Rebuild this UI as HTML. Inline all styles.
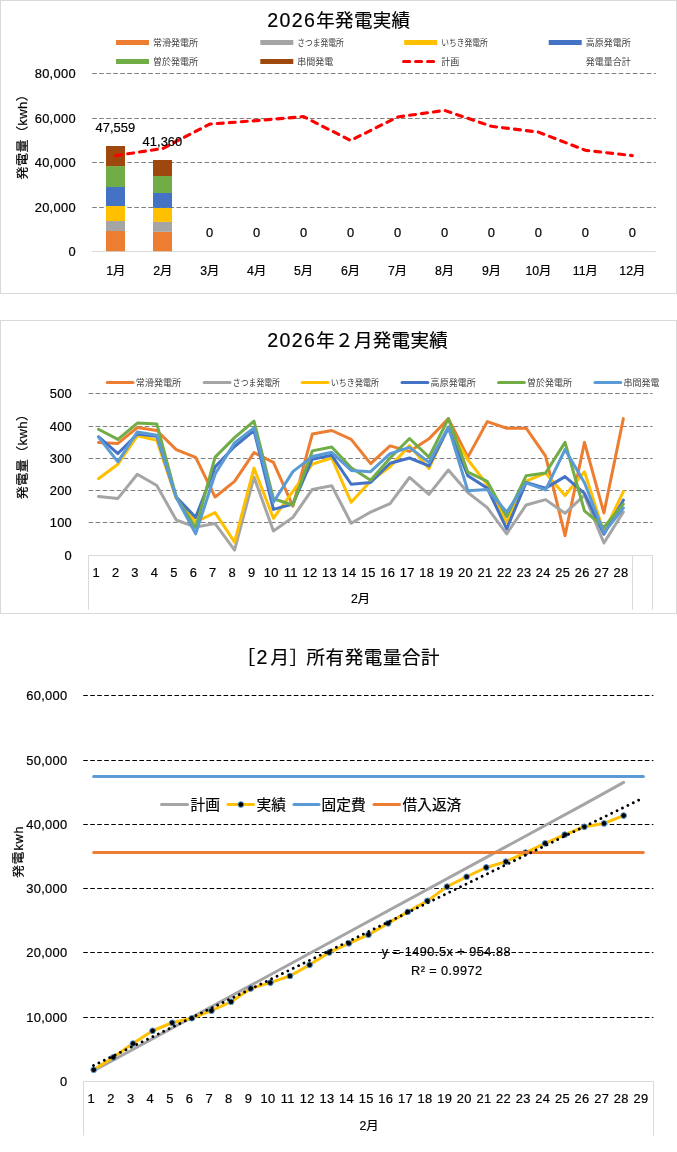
<!DOCTYPE html>
<html lang="ja">
<head>
<meta charset="utf-8">
<title>2026年発電実績</title>
<style>
html,body{margin:0;padding:0;background:#fff;}
body{width:677px;height:1152px;overflow:hidden;font-family:'Liberation Sans', 'Noto Sans CJK JP', sans-serif;}
svg{display:block;font-family:'Liberation Sans', 'Noto Sans CJK JP', sans-serif;}
</style>
</head>
<body>
<svg width="677" height="1152" viewBox="0 0 677 1152">
<g id="chart1">
<rect x="0.5" y="0.5" width="676" height="293" fill="#fff" stroke="#d9d9d9"/>
<text x="267.20" y="26.80" font-size="18.5" text-anchor="start" fill="#000" stroke="#000" stroke-width="0.2" letter-spacing="0.35" ><tspan font-size="19.6" letter-spacing="1.35">2026</tspan>年発電実績</text>
<rect x="116" y="40.0" width="33" height="5" fill="#ed7d31"/>
<text x="153.00" y="45.70" font-size="9" text-anchor="start" fill="#404040" textLength="45" lengthAdjust="spacingAndGlyphs">常滑発電所</text>
<rect x="260.3" y="40.0" width="33" height="5" fill="#a5a5a5"/>
<text x="297.30" y="45.70" font-size="9" text-anchor="start" fill="#404040" textLength="46.5" lengthAdjust="spacingAndGlyphs">さつま発電所</text>
<rect x="404.2" y="40.0" width="33" height="5" fill="#ffc000"/>
<text x="441.20" y="45.70" font-size="9" text-anchor="start" fill="#404040" textLength="46.5" lengthAdjust="spacingAndGlyphs">いちき発電所</text>
<rect x="548.7" y="40.0" width="33" height="5" fill="#4472c4"/>
<text x="585.70" y="45.70" font-size="9" text-anchor="start" fill="#404040" textLength="45" lengthAdjust="spacingAndGlyphs">高原発電所</text>
<rect x="116" y="59.0" width="33" height="5" fill="#70ad47"/>
<text x="153.00" y="64.70" font-size="9" text-anchor="start" fill="#404040" textLength="45" lengthAdjust="spacingAndGlyphs">曽於発電所</text>
<rect x="260.3" y="59.0" width="33" height="5" fill="#9e480e"/>
<text x="297.30" y="64.70" font-size="9" text-anchor="start" fill="#404040" textLength="36" lengthAdjust="spacingAndGlyphs">串間発電</text>
<polyline points="403.60,61.50 433.80,61.50" fill="none" stroke="#ff0000" stroke-width="3.1" stroke-linecap="round" stroke-linejoin="round" stroke-dasharray="6 6"/>
<text x="441.20" y="64.70" font-size="9" text-anchor="start" fill="#404040" textLength="18" lengthAdjust="spacingAndGlyphs">計画</text>
<text x="585.70" y="64.70" font-size="9" text-anchor="start" fill="#404040" textLength="45" lengthAdjust="spacingAndGlyphs">発電量合計</text>
<line x1="92.2" y1="73.5" x2="655.8" y2="73.5" stroke="#7f7f7f" stroke-width="1" stroke-dasharray="4.6 2.42"/>
<line x1="92.2" y1="118.5" x2="655.8" y2="118.5" stroke="#7f7f7f" stroke-width="1" stroke-dasharray="4.6 2.42"/>
<line x1="92.2" y1="162.5" x2="655.8" y2="162.5" stroke="#7f7f7f" stroke-width="1" stroke-dasharray="4.6 2.42"/>
<line x1="92.2" y1="207.5" x2="655.8" y2="207.5" stroke="#7f7f7f" stroke-width="1" stroke-dasharray="4.6 2.42"/>
<line x1="92.3" y1="251.5" x2="655.8" y2="251.5" stroke="#d9d9d9" stroke-width="1"/>
<text x="75.90" y="256.10" font-size="12.9" text-anchor="end" fill="#000" stroke="#000" stroke-width="0.2" letter-spacing="0.3" >0</text>
<text x="75.90" y="211.80" font-size="12.9" text-anchor="end" fill="#000" stroke="#000" stroke-width="0.2" letter-spacing="0.3" >20,000</text>
<text x="75.90" y="167.20" font-size="12.9" text-anchor="end" fill="#000" stroke="#000" stroke-width="0.2" letter-spacing="0.3" >40,000</text>
<text x="75.90" y="122.90" font-size="12.9" text-anchor="end" fill="#000" stroke="#000" stroke-width="0.2" letter-spacing="0.3" >60,000</text>
<text x="75.90" y="78.10" font-size="12.9" text-anchor="end" fill="#000" stroke="#000" stroke-width="0.2" letter-spacing="0.3" >80,000</text>
<text transform="translate(26.90 133.60) rotate(-90) scale(1.06 1)" font-size="12.3" text-anchor="middle" fill="#000" stroke="#000" stroke-width="0.2" letter-spacing="0.4" >発電量（kwh）</text>
<rect x="106" y="231.00" width="19" height="20.20" fill="#ed7d31"/>
<rect x="106" y="221.00" width="19" height="10.00" fill="#a5a5a5"/>
<rect x="106" y="206.00" width="19" height="15.00" fill="#ffc000"/>
<rect x="106" y="187.00" width="19" height="19.00" fill="#4472c4"/>
<rect x="106" y="166.10" width="19" height="20.90" fill="#70ad47"/>
<rect x="106" y="146.00" width="19" height="20.10" fill="#9e480e"/>
<rect x="153" y="231.80" width="19" height="19.40" fill="#ed7d31"/>
<rect x="153" y="221.90" width="19" height="9.90" fill="#a5a5a5"/>
<rect x="153" y="207.90" width="19" height="14.00" fill="#ffc000"/>
<rect x="153" y="193.00" width="19" height="14.90" fill="#4472c4"/>
<rect x="153" y="176.00" width="19" height="17.00" fill="#70ad47"/>
<rect x="153" y="160.00" width="19" height="16.00" fill="#9e480e"/>
<polyline points="115.78,155.60 162.74,148.50 209.70,124.10 256.65,120.60 303.61,116.60 350.57,140.50 397.53,117.00 444.49,110.40 491.45,126.30 538.40,132.10 585.36,150.30 632.32,155.60" fill="none" stroke="#ff0000" stroke-width="3.1" stroke-linecap="round" stroke-linejoin="round" stroke-dasharray="6 6"/>
<text x="115.33" y="132.30" font-size="12.9" text-anchor="middle" fill="#000" stroke="#000" stroke-width="0.2" letter-spacing="0.05" >47,559</text>
<text x="162.43" y="145.80" font-size="12.9" text-anchor="middle" fill="#000" stroke="#000" stroke-width="0.2" letter-spacing="0.05" >41,360</text>
<text x="209.70" y="236.80" font-size="12.9" text-anchor="middle" fill="#000" stroke="#000" stroke-width="0.2" >0</text>
<text x="256.65" y="236.80" font-size="12.9" text-anchor="middle" fill="#000" stroke="#000" stroke-width="0.2" >0</text>
<text x="303.61" y="236.80" font-size="12.9" text-anchor="middle" fill="#000" stroke="#000" stroke-width="0.2" >0</text>
<text x="350.57" y="236.80" font-size="12.9" text-anchor="middle" fill="#000" stroke="#000" stroke-width="0.2" >0</text>
<text x="397.53" y="236.80" font-size="12.9" text-anchor="middle" fill="#000" stroke="#000" stroke-width="0.2" >0</text>
<text x="444.49" y="236.80" font-size="12.9" text-anchor="middle" fill="#000" stroke="#000" stroke-width="0.2" >0</text>
<text x="491.45" y="236.80" font-size="12.9" text-anchor="middle" fill="#000" stroke="#000" stroke-width="0.2" >0</text>
<text x="538.40" y="236.80" font-size="12.9" text-anchor="middle" fill="#000" stroke="#000" stroke-width="0.2" >0</text>
<text x="585.36" y="236.80" font-size="12.9" text-anchor="middle" fill="#000" stroke="#000" stroke-width="0.2" >0</text>
<text x="632.32" y="236.80" font-size="12.9" text-anchor="middle" fill="#000" stroke="#000" stroke-width="0.2" >0</text>
<text x="115.78" y="274.50" font-size="12.3" text-anchor="middle" fill="#000" stroke="#000" stroke-width="0.2" >1月</text>
<text x="162.74" y="274.50" font-size="12.3" text-anchor="middle" fill="#000" stroke="#000" stroke-width="0.2" >2月</text>
<text x="209.70" y="274.50" font-size="12.3" text-anchor="middle" fill="#000" stroke="#000" stroke-width="0.2" >3月</text>
<text x="256.65" y="274.50" font-size="12.3" text-anchor="middle" fill="#000" stroke="#000" stroke-width="0.2" >4月</text>
<text x="303.61" y="274.50" font-size="12.3" text-anchor="middle" fill="#000" stroke="#000" stroke-width="0.2" >5月</text>
<text x="350.57" y="274.50" font-size="12.3" text-anchor="middle" fill="#000" stroke="#000" stroke-width="0.2" >6月</text>
<text x="397.53" y="274.50" font-size="12.3" text-anchor="middle" fill="#000" stroke="#000" stroke-width="0.2" >7月</text>
<text x="444.49" y="274.50" font-size="12.3" text-anchor="middle" fill="#000" stroke="#000" stroke-width="0.2" >8月</text>
<text x="491.45" y="274.50" font-size="12.3" text-anchor="middle" fill="#000" stroke="#000" stroke-width="0.2" >9月</text>
<text x="538.40" y="274.50" font-size="12.3" text-anchor="middle" fill="#000" stroke="#000" stroke-width="0.2" >10月</text>
<text x="585.36" y="274.50" font-size="12.3" text-anchor="middle" fill="#000" stroke="#000" stroke-width="0.2" >11月</text>
<text x="632.32" y="274.50" font-size="12.3" text-anchor="middle" fill="#000" stroke="#000" stroke-width="0.2" >12月</text>
</g>
<g id="chart2">
<rect x="0.5" y="320.5" width="676" height="293" fill="#fff" stroke="#d9d9d9"/>
<text x="267.20" y="346.80" font-size="18.5" text-anchor="start" fill="#000" stroke="#000" stroke-width="0.2" letter-spacing="0.35" ><tspan font-size="19.6" letter-spacing="1.35">2026</tspan>年２月発電実績</text>
<line x1="88.6" y1="393.5" x2="652.6" y2="393.5" stroke="#7f7f7f" stroke-width="1" stroke-dasharray="4.6 2.42"/>
<line x1="88.6" y1="426.5" x2="652.6" y2="426.5" stroke="#7f7f7f" stroke-width="1" stroke-dasharray="4.6 2.42"/>
<line x1="88.6" y1="458.5" x2="652.6" y2="458.5" stroke="#7f7f7f" stroke-width="1" stroke-dasharray="4.6 2.42"/>
<line x1="88.6" y1="490.5" x2="652.6" y2="490.5" stroke="#7f7f7f" stroke-width="1" stroke-dasharray="4.6 2.42"/>
<line x1="88.6" y1="522.5" x2="652.6" y2="522.5" stroke="#7f7f7f" stroke-width="1" stroke-dasharray="4.6 2.42"/>
<text x="72.10" y="559.80" font-size="12.9" text-anchor="end" fill="#000" stroke="#000" stroke-width="0.2" letter-spacing="0.3" >0</text>
<text x="72.10" y="527.20" font-size="12.9" text-anchor="end" fill="#000" stroke="#000" stroke-width="0.2" letter-spacing="0.3" >100</text>
<text x="72.10" y="495.00" font-size="12.9" text-anchor="end" fill="#000" stroke="#000" stroke-width="0.2" letter-spacing="0.3" >200</text>
<text x="72.10" y="462.90" font-size="12.9" text-anchor="end" fill="#000" stroke="#000" stroke-width="0.2" letter-spacing="0.3" >300</text>
<text x="72.10" y="430.90" font-size="12.9" text-anchor="end" fill="#000" stroke="#000" stroke-width="0.2" letter-spacing="0.3" >400</text>
<text x="72.10" y="398.00" font-size="12.9" text-anchor="end" fill="#000" stroke="#000" stroke-width="0.2" letter-spacing="0.3" >500</text>
<text transform="translate(26.90 453.40) rotate(-90) scale(1.06 1)" font-size="12.3" text-anchor="middle" fill="#000" stroke="#000" stroke-width="0.2" letter-spacing="0.4" >発電量（kwh）</text>
<path d="M88.5 609.5V555.5H652.5V609.5M632.5 555.5V609.5" fill="none" stroke="#d9d9d9" stroke-width="1"/>
<text x="96.22" y="576.50" font-size="12.9" text-anchor="middle" fill="#000" stroke="#000" stroke-width="0.2" letter-spacing="0.3" >1</text>
<text x="115.66" y="576.50" font-size="12.9" text-anchor="middle" fill="#000" stroke="#000" stroke-width="0.2" letter-spacing="0.3" >2</text>
<text x="135.10" y="576.50" font-size="12.9" text-anchor="middle" fill="#000" stroke="#000" stroke-width="0.2" letter-spacing="0.3" >3</text>
<text x="154.54" y="576.50" font-size="12.9" text-anchor="middle" fill="#000" stroke="#000" stroke-width="0.2" letter-spacing="0.3" >4</text>
<text x="173.98" y="576.50" font-size="12.9" text-anchor="middle" fill="#000" stroke="#000" stroke-width="0.2" letter-spacing="0.3" >5</text>
<text x="193.42" y="576.50" font-size="12.9" text-anchor="middle" fill="#000" stroke="#000" stroke-width="0.2" letter-spacing="0.3" >6</text>
<text x="212.86" y="576.50" font-size="12.9" text-anchor="middle" fill="#000" stroke="#000" stroke-width="0.2" letter-spacing="0.3" >7</text>
<text x="232.30" y="576.50" font-size="12.9" text-anchor="middle" fill="#000" stroke="#000" stroke-width="0.2" letter-spacing="0.3" >8</text>
<text x="251.74" y="576.50" font-size="12.9" text-anchor="middle" fill="#000" stroke="#000" stroke-width="0.2" letter-spacing="0.3" >9</text>
<text x="271.18" y="576.50" font-size="12.9" text-anchor="middle" fill="#000" stroke="#000" stroke-width="0.2" letter-spacing="0.3" >10</text>
<text x="290.62" y="576.50" font-size="12.9" text-anchor="middle" fill="#000" stroke="#000" stroke-width="0.2" letter-spacing="0.3" >11</text>
<text x="310.06" y="576.50" font-size="12.9" text-anchor="middle" fill="#000" stroke="#000" stroke-width="0.2" letter-spacing="0.3" >12</text>
<text x="329.50" y="576.50" font-size="12.9" text-anchor="middle" fill="#000" stroke="#000" stroke-width="0.2" letter-spacing="0.3" >13</text>
<text x="348.94" y="576.50" font-size="12.9" text-anchor="middle" fill="#000" stroke="#000" stroke-width="0.2" letter-spacing="0.3" >14</text>
<text x="368.38" y="576.50" font-size="12.9" text-anchor="middle" fill="#000" stroke="#000" stroke-width="0.2" letter-spacing="0.3" >15</text>
<text x="387.82" y="576.50" font-size="12.9" text-anchor="middle" fill="#000" stroke="#000" stroke-width="0.2" letter-spacing="0.3" >16</text>
<text x="407.26" y="576.50" font-size="12.9" text-anchor="middle" fill="#000" stroke="#000" stroke-width="0.2" letter-spacing="0.3" >17</text>
<text x="426.70" y="576.50" font-size="12.9" text-anchor="middle" fill="#000" stroke="#000" stroke-width="0.2" letter-spacing="0.3" >18</text>
<text x="446.14" y="576.50" font-size="12.9" text-anchor="middle" fill="#000" stroke="#000" stroke-width="0.2" letter-spacing="0.3" >19</text>
<text x="465.58" y="576.50" font-size="12.9" text-anchor="middle" fill="#000" stroke="#000" stroke-width="0.2" letter-spacing="0.3" >20</text>
<text x="485.02" y="576.50" font-size="12.9" text-anchor="middle" fill="#000" stroke="#000" stroke-width="0.2" letter-spacing="0.3" >21</text>
<text x="504.46" y="576.50" font-size="12.9" text-anchor="middle" fill="#000" stroke="#000" stroke-width="0.2" letter-spacing="0.3" >22</text>
<text x="523.90" y="576.50" font-size="12.9" text-anchor="middle" fill="#000" stroke="#000" stroke-width="0.2" letter-spacing="0.3" >23</text>
<text x="543.34" y="576.50" font-size="12.9" text-anchor="middle" fill="#000" stroke="#000" stroke-width="0.2" letter-spacing="0.3" >24</text>
<text x="562.78" y="576.50" font-size="12.9" text-anchor="middle" fill="#000" stroke="#000" stroke-width="0.2" letter-spacing="0.3" >25</text>
<text x="582.22" y="576.50" font-size="12.9" text-anchor="middle" fill="#000" stroke="#000" stroke-width="0.2" letter-spacing="0.3" >26</text>
<text x="601.66" y="576.50" font-size="12.9" text-anchor="middle" fill="#000" stroke="#000" stroke-width="0.2" letter-spacing="0.3" >27</text>
<text x="621.10" y="576.50" font-size="12.9" text-anchor="middle" fill="#000" stroke="#000" stroke-width="0.2" letter-spacing="0.3" >28</text>
<text x="360.50" y="602.50" font-size="12.3" text-anchor="middle" fill="#000" stroke="#000" stroke-width="0.2" >2月</text>
<polyline points="107.20,382.50 133.00,382.50" fill="none" stroke="#ed7d31" stroke-width="3" stroke-linecap="round" stroke-linejoin="round"/>
<text x="135.80" y="385.80" font-size="9" text-anchor="start" fill="#404040" textLength="45.4" lengthAdjust="spacingAndGlyphs">常滑発電所</text>
<polyline points="204.20,382.50 230.00,382.50" fill="none" stroke="#a5a5a5" stroke-width="3" stroke-linecap="round" stroke-linejoin="round"/>
<text x="232.80" y="385.80" font-size="9" text-anchor="start" fill="#404040" textLength="47.2" lengthAdjust="spacingAndGlyphs">さつま発電所</text>
<polyline points="302.20,382.50 328.00,382.50" fill="none" stroke="#ffc000" stroke-width="3" stroke-linecap="round" stroke-linejoin="round"/>
<text x="330.80" y="385.80" font-size="9" text-anchor="start" fill="#404040" textLength="48.2" lengthAdjust="spacingAndGlyphs">いちき発電所</text>
<polyline points="402.00,382.50 427.80,382.50" fill="none" stroke="#4472c4" stroke-width="3" stroke-linecap="round" stroke-linejoin="round"/>
<text x="430.60" y="385.80" font-size="9" text-anchor="start" fill="#404040" textLength="45.2" lengthAdjust="spacingAndGlyphs">高原発電所</text>
<polyline points="498.50,382.50 524.30,382.50" fill="none" stroke="#70ad47" stroke-width="3" stroke-linecap="round" stroke-linejoin="round"/>
<text x="527.10" y="385.80" font-size="9" text-anchor="start" fill="#404040" textLength="45" lengthAdjust="spacingAndGlyphs">曽於発電所</text>
<polyline points="595.00,382.50 620.80,382.50" fill="none" stroke="#5b9bd5" stroke-width="3" stroke-linecap="round" stroke-linejoin="round"/>
<text x="623.60" y="385.80" font-size="9" text-anchor="start" fill="#404040" textLength="35.8" lengthAdjust="spacingAndGlyphs">串間発電</text>
<polyline points="98.47,442.39 117.91,443.45 137.35,427.50 156.79,430.51 176.23,449.66 195.67,457.45 215.11,496.98 234.55,481.38 253.99,452.67 273.43,462.42 292.87,506.20 312.31,434.06 331.75,430.51 351.19,439.38 370.63,463.66 390.07,445.93 409.51,451.43 428.95,438.84 448.39,418.64 467.83,457.10 487.27,421.65 506.71,428.21 526.15,428.21 545.59,456.21 565.03,535.62 584.47,442.39 603.91,512.93 623.35,418.64" fill="none" stroke="#ed7d31" stroke-width="3" stroke-linecap="round" stroke-linejoin="round"/>
<polyline points="98.47,496.45 117.91,498.40 137.35,474.29 156.79,485.46 176.23,520.02 195.67,527.11 215.11,523.57 234.55,550.15 253.99,477.13 273.43,531.01 292.87,517.36 312.31,489.36 331.75,485.81 351.19,523.21 370.63,512.05 390.07,503.54 409.51,477.48 428.95,494.32 448.39,470.04 467.83,492.55 487.27,507.61 506.71,533.85 526.15,504.96 545.59,499.64 565.03,513.29 584.47,495.21 603.91,543.06 623.35,512.05" fill="none" stroke="#a5a5a5" stroke-width="3" stroke-linecap="round" stroke-linejoin="round"/>
<polyline points="98.47,478.72 117.91,464.19 137.35,435.83 156.79,440.26 176.23,498.40 195.67,521.79 215.11,512.58 234.55,542.18 253.99,468.09 273.43,518.25 292.87,491.31 312.31,464.19 331.75,457.99 351.19,502.30 370.63,481.03 390.07,466.85 409.51,445.58 428.95,468.62 448.39,426.97 467.83,459.76 487.27,484.57 506.71,522.68 526.15,481.03 545.59,473.05 565.03,495.56 584.47,471.81 603.91,532.43 623.35,491.66" fill="none" stroke="#ffc000" stroke-width="3" stroke-linecap="round" stroke-linejoin="round"/>
<polyline points="98.47,436.72 117.91,453.56 137.35,434.06 156.79,436.36 176.23,496.98 195.67,517.36 215.11,466.85 234.55,446.47 253.99,430.51 273.43,509.39 292.87,504.07 312.31,459.23 331.75,455.33 351.19,484.22 370.63,482.45 390.07,463.30 409.51,457.99 428.95,465.96 448.39,427.86 467.83,475.71 487.27,488.12 506.71,528.88 526.15,482.45 545.59,488.12 565.03,476.60 584.47,493.43 603.91,534.20 623.35,500.17" fill="none" stroke="#4472c4" stroke-width="3" stroke-linecap="round" stroke-linejoin="round"/>
<polyline points="98.47,429.27 117.91,439.38 137.35,423.07 156.79,423.96 176.23,496.98 195.67,528.00 215.11,457.10 234.55,437.60 253.99,421.12 273.43,498.75 292.87,504.96 312.31,450.90 331.75,447.00 351.19,467.73 370.63,480.14 390.07,457.99 409.51,438.49 428.95,457.10 448.39,418.64 467.83,472.17 487.27,481.38 506.71,516.48 526.15,475.71 545.59,473.05 565.03,442.39 584.47,510.80 603.91,527.11 623.35,504.07" fill="none" stroke="#70ad47" stroke-width="3" stroke-linecap="round" stroke-linejoin="round"/>
<polyline points="98.47,437.07 117.91,461.89 137.35,431.93 156.79,435.30 176.23,497.33 195.67,533.85 215.11,473.94 234.55,442.92 253.99,427.86 273.43,502.30 292.87,471.63 312.31,456.57 331.75,452.31 351.19,470.39 370.63,471.63 390.07,453.56 409.51,447.35 428.95,462.42 448.39,426.97 467.83,490.78 487.27,489.54 506.71,512.05 526.15,482.80 545.59,489.89 565.03,449.48 584.47,482.80 603.91,532.78 623.35,507.97" fill="none" stroke="#5b9bd5" stroke-width="3" stroke-linecap="round" stroke-linejoin="round"/>
</g>
<g id="chart3">
<text x="245.00" y="664.30" font-size="18.5" text-anchor="start" fill="#000" stroke="#000" stroke-width="0.2" letter-spacing="0.7" ><tspan dx="-8.3">［</tspan><tspan dx="0.6" font-size="19.6">2</tspan><tspan dx="2.3">月］</tspan><tspan dx="-2.3" letter-spacing="0.6">所有発電量合計</tspan></text>
<line x1="83.2" y1="1017.5" x2="653.4" y2="1017.5" stroke="#000" stroke-width="1" stroke-dasharray="4.6 2.42"/>
<line x1="83.2" y1="952.5" x2="653.4" y2="952.5" stroke="#000" stroke-width="1" stroke-dasharray="4.6 2.42"/>
<line x1="83.2" y1="888.5" x2="653.4" y2="888.5" stroke="#000" stroke-width="1" stroke-dasharray="4.6 2.42"/>
<line x1="83.2" y1="824.5" x2="653.4" y2="824.5" stroke="#000" stroke-width="1" stroke-dasharray="4.6 2.42"/>
<line x1="83.2" y1="760.5" x2="653.4" y2="760.5" stroke="#000" stroke-width="1" stroke-dasharray="4.6 2.42"/>
<line x1="83.2" y1="695.5" x2="653.4" y2="695.5" stroke="#000" stroke-width="1" stroke-dasharray="4.6 2.42"/>
<text x="67.50" y="1085.90" font-size="12.9" text-anchor="end" fill="#000" stroke="#000" stroke-width="0.2" letter-spacing="0.3" >0</text>
<text x="67.50" y="1021.90" font-size="12.9" text-anchor="end" fill="#000" stroke="#000" stroke-width="0.2" letter-spacing="0.3" >10,000</text>
<text x="67.50" y="956.90" font-size="12.9" text-anchor="end" fill="#000" stroke="#000" stroke-width="0.2" letter-spacing="0.3" >20,000</text>
<text x="67.50" y="892.90" font-size="12.9" text-anchor="end" fill="#000" stroke="#000" stroke-width="0.2" letter-spacing="0.3" >30,000</text>
<text x="67.50" y="828.90" font-size="12.9" text-anchor="end" fill="#000" stroke="#000" stroke-width="0.2" letter-spacing="0.3" >40,000</text>
<text x="67.50" y="764.90" font-size="12.9" text-anchor="end" fill="#000" stroke="#000" stroke-width="0.2" letter-spacing="0.3" >50,000</text>
<text x="67.50" y="699.90" font-size="12.9" text-anchor="end" fill="#000" stroke="#000" stroke-width="0.2" letter-spacing="0.3" >60,000</text>
<text transform="translate(22.70 851.60) rotate(-90) scale(1.06 1)" font-size="12" text-anchor="middle" fill="#000" stroke="#000" stroke-width="0.2" letter-spacing="0.8" >発電kwh</text>
<path d="M83.5 1135.5V1081.5H653.5V1135.5" fill="none" stroke="#d9d9d9" stroke-width="1"/>
<text x="91.36" y="1102.80" font-size="12.9" text-anchor="middle" fill="#000" stroke="#000" stroke-width="0.2" letter-spacing="0.3" >1</text>
<text x="110.99" y="1102.80" font-size="12.9" text-anchor="middle" fill="#000" stroke="#000" stroke-width="0.2" letter-spacing="0.3" >2</text>
<text x="130.62" y="1102.80" font-size="12.9" text-anchor="middle" fill="#000" stroke="#000" stroke-width="0.2" letter-spacing="0.3" >3</text>
<text x="150.25" y="1102.80" font-size="12.9" text-anchor="middle" fill="#000" stroke="#000" stroke-width="0.2" letter-spacing="0.3" >4</text>
<text x="169.87" y="1102.80" font-size="12.9" text-anchor="middle" fill="#000" stroke="#000" stroke-width="0.2" letter-spacing="0.3" >5</text>
<text x="189.50" y="1102.80" font-size="12.9" text-anchor="middle" fill="#000" stroke="#000" stroke-width="0.2" letter-spacing="0.3" >6</text>
<text x="209.13" y="1102.80" font-size="12.9" text-anchor="middle" fill="#000" stroke="#000" stroke-width="0.2" letter-spacing="0.3" >7</text>
<text x="228.76" y="1102.80" font-size="12.9" text-anchor="middle" fill="#000" stroke="#000" stroke-width="0.2" letter-spacing="0.3" >8</text>
<text x="248.38" y="1102.80" font-size="12.9" text-anchor="middle" fill="#000" stroke="#000" stroke-width="0.2" letter-spacing="0.3" >9</text>
<text x="268.01" y="1102.80" font-size="12.9" text-anchor="middle" fill="#000" stroke="#000" stroke-width="0.2" letter-spacing="0.3" >10</text>
<text x="287.64" y="1102.80" font-size="12.9" text-anchor="middle" fill="#000" stroke="#000" stroke-width="0.2" letter-spacing="0.3" >11</text>
<text x="307.27" y="1102.80" font-size="12.9" text-anchor="middle" fill="#000" stroke="#000" stroke-width="0.2" letter-spacing="0.3" >12</text>
<text x="326.89" y="1102.80" font-size="12.9" text-anchor="middle" fill="#000" stroke="#000" stroke-width="0.2" letter-spacing="0.3" >13</text>
<text x="346.52" y="1102.80" font-size="12.9" text-anchor="middle" fill="#000" stroke="#000" stroke-width="0.2" letter-spacing="0.3" >14</text>
<text x="366.15" y="1102.80" font-size="12.9" text-anchor="middle" fill="#000" stroke="#000" stroke-width="0.2" letter-spacing="0.3" >15</text>
<text x="385.78" y="1102.80" font-size="12.9" text-anchor="middle" fill="#000" stroke="#000" stroke-width="0.2" letter-spacing="0.3" >16</text>
<text x="405.41" y="1102.80" font-size="12.9" text-anchor="middle" fill="#000" stroke="#000" stroke-width="0.2" letter-spacing="0.3" >17</text>
<text x="425.03" y="1102.80" font-size="12.9" text-anchor="middle" fill="#000" stroke="#000" stroke-width="0.2" letter-spacing="0.3" >18</text>
<text x="444.66" y="1102.80" font-size="12.9" text-anchor="middle" fill="#000" stroke="#000" stroke-width="0.2" letter-spacing="0.3" >19</text>
<text x="464.29" y="1102.80" font-size="12.9" text-anchor="middle" fill="#000" stroke="#000" stroke-width="0.2" letter-spacing="0.3" >20</text>
<text x="483.92" y="1102.80" font-size="12.9" text-anchor="middle" fill="#000" stroke="#000" stroke-width="0.2" letter-spacing="0.3" >21</text>
<text x="503.54" y="1102.80" font-size="12.9" text-anchor="middle" fill="#000" stroke="#000" stroke-width="0.2" letter-spacing="0.3" >22</text>
<text x="523.17" y="1102.80" font-size="12.9" text-anchor="middle" fill="#000" stroke="#000" stroke-width="0.2" letter-spacing="0.3" >23</text>
<text x="542.80" y="1102.80" font-size="12.9" text-anchor="middle" fill="#000" stroke="#000" stroke-width="0.2" letter-spacing="0.3" >24</text>
<text x="562.43" y="1102.80" font-size="12.9" text-anchor="middle" fill="#000" stroke="#000" stroke-width="0.2" letter-spacing="0.3" >25</text>
<text x="582.05" y="1102.80" font-size="12.9" text-anchor="middle" fill="#000" stroke="#000" stroke-width="0.2" letter-spacing="0.3" >26</text>
<text x="601.68" y="1102.80" font-size="12.9" text-anchor="middle" fill="#000" stroke="#000" stroke-width="0.2" letter-spacing="0.3" >27</text>
<text x="621.31" y="1102.80" font-size="12.9" text-anchor="middle" fill="#000" stroke="#000" stroke-width="0.2" letter-spacing="0.3" >28</text>
<text x="640.94" y="1102.80" font-size="12.9" text-anchor="middle" fill="#000" stroke="#000" stroke-width="0.2" letter-spacing="0.3" >29</text>
<text x="369.00" y="1130.00" font-size="12.3" text-anchor="middle" fill="#000" stroke="#000" stroke-width="0.2" >2月</text>
<polyline points="93.71,1070.70 584.40,804.10 623.66,782.40" fill="none" stroke="#a5a5a5" stroke-width="3" stroke-linecap="round" stroke-linejoin="round"/>
<polyline points="93.71,1069.75 113.34,1057.35 132.97,1043.55 152.60,1030.75 172.22,1022.75 191.85,1018.25 211.48,1010.65 231.11,1001.75 250.73,988.45 270.36,982.65 289.99,975.95 309.62,964.85 329.24,952.45 348.87,943.35 368.50,934.65 388.13,923.35 407.76,911.85 427.38,900.85 447.01,886.65 466.64,876.75 486.27,867.45 505.89,861.65 525.52,852.55 545.15,843.35 564.78,834.65 584.40,826.75 604.03,823.45 623.66,815.55" fill="none" stroke="#ffc000" stroke-width="3" stroke-linecap="round" stroke-linejoin="round"/>
<circle cx="93.71" cy="1069.75" r="2.85" fill="#000" stroke="#5b9bd5" stroke-width="1"/>
<circle cx="113.34" cy="1057.35" r="2.85" fill="#000" stroke="#5b9bd5" stroke-width="1"/>
<circle cx="132.97" cy="1043.55" r="2.85" fill="#000" stroke="#5b9bd5" stroke-width="1"/>
<circle cx="152.60" cy="1030.75" r="2.85" fill="#000" stroke="#5b9bd5" stroke-width="1"/>
<circle cx="172.22" cy="1022.75" r="2.85" fill="#000" stroke="#5b9bd5" stroke-width="1"/>
<circle cx="191.85" cy="1018.25" r="2.85" fill="#000" stroke="#5b9bd5" stroke-width="1"/>
<circle cx="211.48" cy="1010.65" r="2.85" fill="#000" stroke="#5b9bd5" stroke-width="1"/>
<circle cx="231.11" cy="1001.75" r="2.85" fill="#000" stroke="#5b9bd5" stroke-width="1"/>
<circle cx="250.73" cy="988.45" r="2.85" fill="#000" stroke="#5b9bd5" stroke-width="1"/>
<circle cx="270.36" cy="982.65" r="2.85" fill="#000" stroke="#5b9bd5" stroke-width="1"/>
<circle cx="289.99" cy="975.95" r="2.85" fill="#000" stroke="#5b9bd5" stroke-width="1"/>
<circle cx="309.62" cy="964.85" r="2.85" fill="#000" stroke="#5b9bd5" stroke-width="1"/>
<circle cx="329.24" cy="952.45" r="2.85" fill="#000" stroke="#5b9bd5" stroke-width="1"/>
<circle cx="348.87" cy="943.35" r="2.85" fill="#000" stroke="#5b9bd5" stroke-width="1"/>
<circle cx="368.50" cy="934.65" r="2.85" fill="#000" stroke="#5b9bd5" stroke-width="1"/>
<circle cx="388.13" cy="923.35" r="2.85" fill="#000" stroke="#5b9bd5" stroke-width="1"/>
<circle cx="407.76" cy="911.85" r="2.85" fill="#000" stroke="#5b9bd5" stroke-width="1"/>
<circle cx="427.38" cy="900.85" r="2.85" fill="#000" stroke="#5b9bd5" stroke-width="1"/>
<circle cx="447.01" cy="886.65" r="2.85" fill="#000" stroke="#5b9bd5" stroke-width="1"/>
<circle cx="466.64" cy="876.75" r="2.85" fill="#000" stroke="#5b9bd5" stroke-width="1"/>
<circle cx="486.27" cy="867.45" r="2.85" fill="#000" stroke="#5b9bd5" stroke-width="1"/>
<circle cx="505.89" cy="861.65" r="2.85" fill="#000" stroke="#5b9bd5" stroke-width="1"/>
<circle cx="525.52" cy="852.55" r="2.85" fill="#000" stroke="#5b9bd5" stroke-width="1"/>
<circle cx="545.15" cy="843.35" r="2.85" fill="#000" stroke="#5b9bd5" stroke-width="1"/>
<circle cx="564.78" cy="834.65" r="2.85" fill="#000" stroke="#5b9bd5" stroke-width="1"/>
<circle cx="584.40" cy="826.75" r="2.85" fill="#000" stroke="#5b9bd5" stroke-width="1"/>
<circle cx="604.03" cy="823.45" r="2.85" fill="#000" stroke="#5b9bd5" stroke-width="1"/>
<circle cx="623.66" cy="815.55" r="2.85" fill="#000" stroke="#5b9bd5" stroke-width="1"/>
<polyline points="93.71,776.50 643.29,776.50" fill="none" stroke="#5b9bd5" stroke-width="3" stroke-linecap="round" stroke-linejoin="round"/>
<polyline points="93.71,852.40 643.29,852.40" fill="none" stroke="#ed7d31" stroke-width="3" stroke-linecap="round" stroke-linejoin="round"/>
<polyline points="93.50,1065.50 639.30,799.81" fill="none" stroke="#000" stroke-width="2.8" stroke-linecap="round" stroke-linejoin="round" stroke-dasharray="0.01 5.993"/>
<polyline points="161.50,804.50 187.50,804.50" fill="none" stroke="#a5a5a5" stroke-width="3" stroke-linecap="round" stroke-linejoin="round"/>
<text x="190.50" y="809.80" font-size="14.7" text-anchor="start" fill="#000" stroke="#000" stroke-width="0.2" >計画</text>
<polyline points="228.00,804.50 253.50,804.50" fill="none" stroke="#ffc000" stroke-width="3" stroke-linecap="round" stroke-linejoin="round"/>
<circle cx="240.9" cy="804.5" r="2.85" fill="#000" stroke="#5b9bd5" stroke-width="1"/>
<text x="256.50" y="809.80" font-size="14.7" text-anchor="start" fill="#000" stroke="#000" stroke-width="0.2" >実績</text>
<polyline points="294.00,804.50 319.00,804.50" fill="none" stroke="#5b9bd5" stroke-width="3" stroke-linecap="round" stroke-linejoin="round"/>
<text x="321.50" y="809.80" font-size="14.7" text-anchor="start" fill="#000" stroke="#000" stroke-width="0.2" >固定費</text>
<polyline points="374.00,804.50 399.50,804.50" fill="none" stroke="#ed7d31" stroke-width="3" stroke-linecap="round" stroke-linejoin="round"/>
<text x="402.50" y="809.80" font-size="14.7" text-anchor="start" fill="#000" stroke="#000" stroke-width="0.2" >借入返済</text>
<text x="446.45" y="955.50" font-size="12.7" text-anchor="middle" fill="#000" stroke="#000" stroke-width="0.2" letter-spacing="0.5" >y = 1490.5x + 954.88</text>
<text x="446.83" y="975.00" font-size="12.7" text-anchor="middle" fill="#000" stroke="#000" stroke-width="0.2" letter-spacing="0.45" >R² = 0.9972</text>
</g>
</svg>
</body>
</html>
